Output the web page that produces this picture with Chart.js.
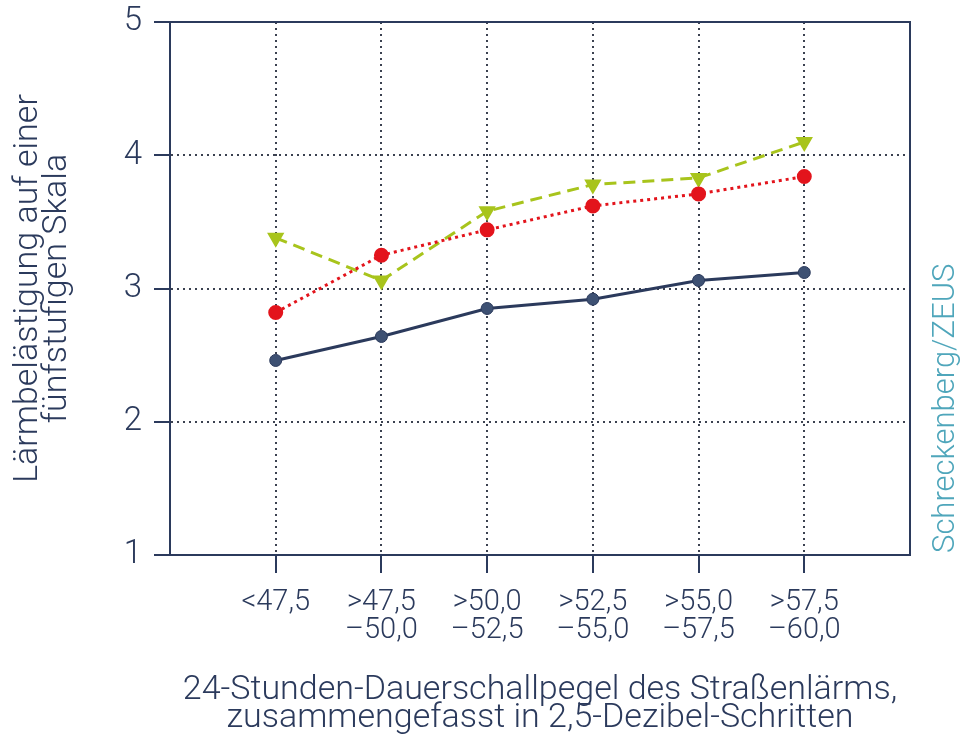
<!DOCTYPE html>
<html>
<head>
<meta charset="utf-8">
<script src="https://cdn.jsdelivr.net/npm/chart.js@4.4.0/dist/chart.umd.min.js"></script>
<style>
  html, body { margin: 0; padding: 0; background: #fff; }
  #wrap { width: 968px; height: 737px; position: relative; }
</style>
</head>
<body>
<div id="wrap"><canvas id="myChart"></canvas></div>
<script>
// categories (dB classes) and the three series
var categories = [['<47,5'], ['>47,5', '–50,0'], ['>50,0', '–52,5'], ['>52,5', '–55,0'], ['>55,0', '–57,5'], ['>57,5', '–60,0']];
var seriesNavy = [2.46, 2.64, 2.85, 2.92, 3.06, 3.12];
var seriesRed = [2.82, 3.25, 3.44, 3.62, 3.71, 3.84];
var seriesGreen = [3.38, 3.06, 3.58, 3.78, 3.83, 4.10];
var yTicks = [1, 2, 3, 4, 5];

var navy = '#2b3a5c';
var red = '#e3141c';
var green = '#a8c41c';
var teal = '#4fa6bb';
var fontFamily = 'Roboto, "Open Sans", sans-serif';

function toPoints(values) {
    return values.map(function(v, i) { return { x: i + 1, y: v }; });
}

// frame on top and right + side note
var framePlugin = {
    id: 'frame',
    afterDatasetsDraw: function(chart) {
        var a = chart.chartArea;
        var c = chart.ctx;
        c.save();
        c.strokeStyle = navy;
        c.lineWidth = 2;
        c.beginPath();
        c.moveTo(a.left, a.top);
        c.lineTo(a.right, a.top);
        c.lineTo(a.right, a.bottom);
        c.stroke();
        // right side label
        c.translate(946, a.bottom);
        c.rotate(-Math.PI / 2);
        c.fillStyle = teal;
        c.font = '300 31px ' + fontFamily;
        c.textAlign = 'left';
        c.textBaseline = 'middle';
        c.fillText('Schreckenberg/ZEUS', 2, 0);
        c.restore();
    }
};

var ctx = document.getElementById('myChart').getContext('2d');
var myChart = new Chart(ctx, {
    type: 'line',
    data: {
        datasets: [{
            label: 'Schreckenberg/ZEUS',
            data: toPoints(seriesNavy),
            borderColor: navy,
            borderWidth: 3,
            pointBackgroundColor: '#3e5173',
            pointBorderColor: navy,
            pointBorderWidth: 1,
            pointRadius: 6,
            tension: 0
        }, {
            label: 'rot',
            data: toPoints(seriesRed),
            borderColor: red,
            borderWidth: 3,
            borderDash: [3, 4],
            pointBackgroundColor: red,
            pointBorderColor: red,
            pointRadius: 6,
            tension: 0
        }, {
            label: 'gruen',
            data: toPoints(seriesGreen),
            borderColor: green,
            borderWidth: 3,
            borderDash: [12, 7],
            pointStyle: 'triangle',
            pointRotation: 180,
            pointBackgroundColor: green,
            pointBorderColor: green,
            pointRadius: 7,
            tension: 0
        }]
    },
    options: {
        responsive: true,
        maintainAspectRatio: false,
        animation: false,
        layout: { padding: { top: 22, right: 58, left: 0, bottom: 0 } },
        plugins: {
            legend: { display: false },
            tooltip: { enabled: false }
        },
        scales: {
            x: {
                type: 'linear',
                min: 0,
                max: 7,
                afterBuildTicks: function(scale) {
                    scale.ticks = categories.map(function(c, i) { return { value: i + 1 }; });
                },
                afterFit: function(scale) { scale.height = 182; },
                ticks: {
                    color: navy,
                    padding: 16,
                    font: { family: fontFamily, size: 29, weight: '300', lineHeight: 0.95 },
                    maxRotation: 0,
                    callback: function(v) { return categories[v - 1]; }
                },
                grid: {
                    color: '#3b4150',
                    lineWidth: 2,
                    tickColor: navy,
                    tickLength: 18,
                    tickWidth: 2
                },
                border: { color: navy, width: 2, dash: [2, 4] },
                title: {
                    display: true,
                    text: ['24-Stunden-Dauerschallpegel des Straßenlärms,', 'zusammengefasst in 2,5-Dezibel-Schritten'],
                    color: navy,
                    font: { family: fontFamily, size: 34, weight: '300', lineHeight: 0.84 },
                    padding: { top: 0, bottom: 4 }
                }
            },
            y: {
                min: 1,
                max: 5,
                afterBuildTicks: function(scale) {
                    scale.ticks = yTicks.map(function(v) { return { value: v }; });
                },
                afterFit: function(scale) {
                    scale.width = 170;
                    scale.paddingTop = 0;
                    scale.paddingBottom = 0;
                },
                ticks: {
                    color: navy,
                    padding: 12,
                    font: { family: fontFamily, size: 33, weight: '300' }
                },
                grid: {
                    color: '#3b4150',
                    lineWidth: 2,
                    tickColor: navy,
                    tickLength: 16,
                    tickWidth: 2
                },
                border: { color: navy, width: 2, dash: [2, 4] },
                title: {
                    display: true,
                    text: ['Lärmbelästigung auf einer', 'fünfstufigen Skala'],
                    color: navy,
                    font: { family: fontFamily, size: 34, weight: '300', lineHeight: 0.86 },
                    padding: { top: 14, bottom: 0 }
                }
            }
        }
    },
    plugins: [framePlugin]
});
</script>
</body>
</html>
